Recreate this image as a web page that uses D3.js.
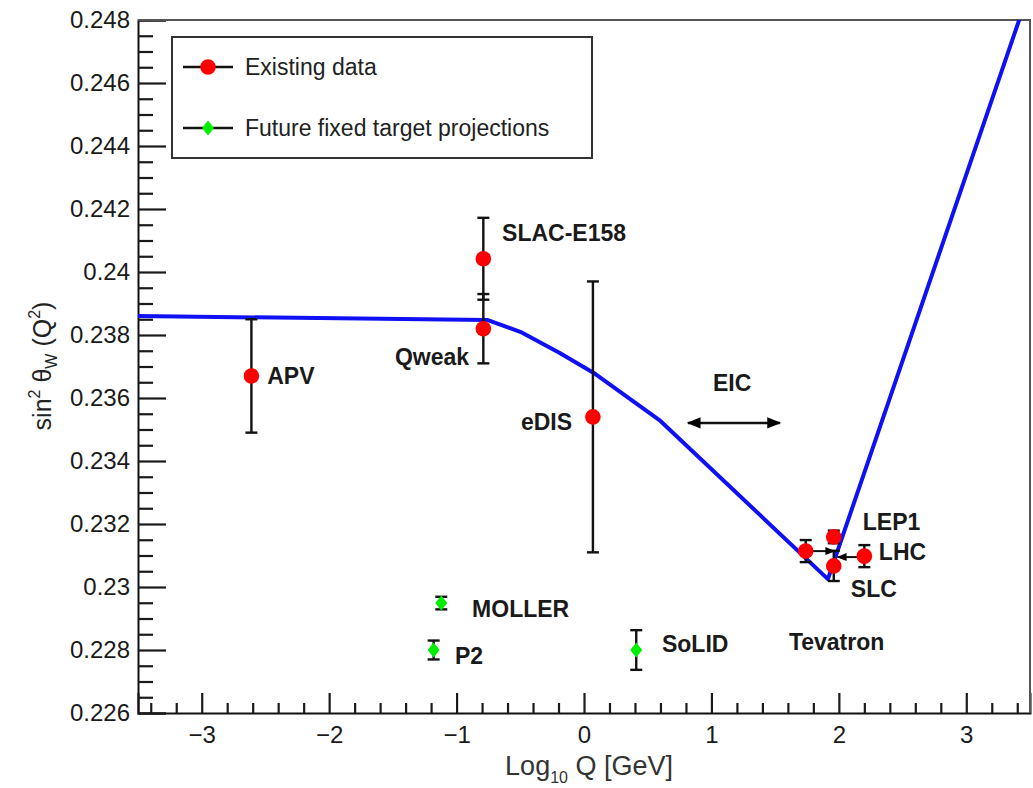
<!DOCTYPE html>
<html>
<head>
<meta charset="utf-8">
<script src="https://cdn.jsdelivr.net/npm/d3@7"></script>
<style>
  body { margin: 0; background: #fff; }
  svg { display: block; font-family: "Liberation Sans", Arial, Helvetica, sans-serif; }
</style>
</head>
<body>
<div id="chart"></div>
<script>
// ---- data ----
var existingNames = ["APV", "SLAC-E158", "Qweak", "eDIS", "Tevatron", "LEP1", "SLC", "LHC"];
var existingX = [-2.61, -0.79, -0.79, 0.07, 1.74, 1.96, 1.96, 2.2];
var existingY = [0.2367, 0.24042, 0.2382, 0.2354, 0.23114, 0.23159, 0.23067, 0.23098];
var existingErr = [0.0018, 0.0013, 0.0011, 0.0043, 0.00035, 0.0002, 0.00048, 0.00035];

var futureNames = ["MOLLER", "P2", "SoLID"];
var futureX = [-1.12, -1.18, 0.41];
var futureY = [0.22949, 0.228, 0.228];
var futureErr = [0.0002, 0.0003, 0.00063];

// running sin^2 theta_W (blue line)
var curveX = [-3.5, -0.76, -0.5, -0.19, 0.09, 0.6, 1.914, 3.42];
var curveY = [0.2386, 0.23848, 0.2381, 0.23743, 0.23676, 0.23527, 0.23025, 0.24806];

// point labels (anchor position in data units)
var labelText = ["APV", "SLAC-E158", "Qweak", "eDIS", "EIC", "LEP1", "LHC", "SLC", "Tevatron", "MOLLER", "P2", "SoLID"];
var labelX = [-2.486, -0.643, -0.902, -0.094, 1.012, 2.188, 2.314, 2.094, 1.608, -0.878, -1.012, 0.612];
var labelY = [0.2367, 0.24124, 0.2373, 0.23524, 0.23648, 0.23206, 0.23111, 0.22994, 0.22825, 0.2293, 0.22781, 0.22819];
var labelAnchor = ["start", "start", "end", "end", "start", "start", "start", "start", "start", "start", "start", "start"];

// arrows: [x1, x2, y]
var eicArrow = [0.816, 1.537, 0.23521];
var pointerArrows = [[1.74, 1.965, 0.23114], [2.2, 1.99, 0.23095]];

var xMajor = [-3, -2, -1, 0, 1, 2, 3];
var yMajor = [0.226, 0.228, 0.23, 0.232, 0.234, 0.236, 0.238, 0.24, 0.242, 0.244, 0.246, 0.248];

var legendLabels = ["Existing data", "Future fixed target projections"];

// ---- layout ----
var width = 1033, height = 788;
var mLeft = 138, mRight = 1030, mTop = 20, mBottom = 713;

var svg = d3.select("#chart").append("svg")
    .attr("width", width)
    .attr("height", height);

var x = d3.scaleLinear().domain([-3.5, 3.5]).range([mLeft, mRight]);
var y = d3.scaleLinear().domain([0.226, 0.248]).range([mBottom, mTop]);

var xMinor = d3.range(-17, 18).map(function (i) { return i / 5; })
    .filter(function (v) { return Math.abs(v - Math.round(v)) > 1e-6; });
var yMinor = d3.range(226, 248.01, 0.5).map(function (v) { return +(v / 1000).toFixed(4); })
    .filter(function (v) { return yMajor.indexOf(v) < 0; });

var defs = svg.append("defs");
defs.append("clipPath").attr("id", "plot-clip")
    .append("rect")
    .attr("x", mLeft).attr("y", mTop)
    .attr("width", mRight - mLeft).attr("height", mBottom - mTop);

function arrowMarker(id, size) {
    defs.append("marker")
        .attr("id", id)
        .attr("viewBox", "0 -5 10 10")
        .attr("refX", 9).attr("refY", 0)
        .attr("markerUnits", "userSpaceOnUse")
        .attr("markerWidth", size).attr("markerHeight", size)
        .attr("orient", "auto-start-reverse")
        .append("path")
        .attr("d", "M0,-4L10,0L0,4Z")
        .attr("fill", "#000");
}
arrowMarker("head-big", 14);
arrowMarker("head-small", 10);

// ---- axes (ROOT style, ticks inside) ----
var xAxis = svg.append("g")
    .attr("transform", "translate(0," + mBottom + ")")
    .call(d3.axisBottom(x).tickValues(xMajor).tickSize(-20).tickPadding(13).tickFormat(d3.format("d")));
svg.append("g")
    .attr("transform", "translate(0," + mBottom + ")")
    .call(d3.axisBottom(x).tickValues(xMinor).tickSize(-10).tickFormat(""))
    .select(".domain").remove();

var yAxis = svg.append("g")
    .attr("transform", "translate(" + mLeft + ",0)")
    .call(d3.axisLeft(y).tickValues(yMajor).tickSize(-28).tickPadding(8).tickFormat(d3.format("")));
svg.append("g")
    .attr("transform", "translate(" + mLeft + ",0)")
    .call(d3.axisLeft(y).tickValues(yMinor).tickSize(-15).tickFormat(""))
    .select(".domain").remove();

svg.selectAll(".tick line").attr("stroke", "#1a1a1a").attr("stroke-width", 2.2);
svg.selectAll(".domain").attr("stroke", "#111").attr("stroke-width", 2);
xAxis.selectAll("text").attr("font-size", 24).attr("fill", "#1a1a1a").attr("font-family", null);
yAxis.selectAll("text").attr("font-size", 24).attr("fill", "#1a1a1a").attr("font-family", null);

// top and right frame
svg.append("path")
    .attr("d", "M" + mLeft + "," + mTop + "H" + mRight + "V" + mBottom)
    .attr("fill", "none")
    .attr("stroke", "#555")
    .attr("stroke-width", 2);

// axis titles
var xt = svg.append("text")
    .attr("x", 673).attr("y", 775)
    .attr("text-anchor", "end")
    .attr("font-size", 27)
    .attr("fill", "#333");
xt.append("tspan").text("Log");
xt.append("tspan").attr("font-size", 16).attr("dy", 8).text("10");
xt.append("tspan").attr("dy", -8).text(" Q [GeV]");

var yt = svg.append("text")
    .attr("transform", "translate(51,366) rotate(-90)")
    .attr("text-anchor", "middle")
    .attr("font-size", 25)
    .attr("fill", "#222");
yt.append("tspan").text("sin");
yt.append("tspan").attr("font-size", 16).attr("dy", -11).text("2");
yt.append("tspan").attr("dy", 11).text(" \u03b8");
yt.append("tspan").attr("font-size", 16).attr("dy", 6).text("W");
yt.append("tspan").attr("dy", -6).text(" (Q");
yt.append("tspan").attr("font-size", 16).attr("dy", -11).text("2");
yt.append("tspan").attr("dy", 11).text(")");

// ---- running curve ----
var line = d3.line()
    .x(function (d) { return x(d[0]); })
    .y(function (d) { return y(d[1]); });

svg.append("path")
    .datum(curveX.map(function (v, i) { return [v, curveY[i]]; }))
    .attr("clip-path", "url(#plot-clip)")
    .attr("d", line)
    .attr("fill", "none")
    .attr("stroke", "#1010f5")
    .attr("stroke-width", 4)
    .attr("stroke-linejoin", "round");

// ---- error bars ----
function errorBars(xs, ys, errs) {
    var g = svg.append("g").attr("stroke", "#111").attr("stroke-width", 2.4);
    xs.forEach(function (xv, i) {
        var cx = x(xv), y1 = y(ys[i] + errs[i]), y2 = y(ys[i] - errs[i]);
        g.append("line").attr("x1", cx).attr("x2", cx).attr("y1", y1).attr("y2", y2);
        g.append("line").attr("x1", cx - 6).attr("x2", cx + 6).attr("y1", y1).attr("y2", y1);
        g.append("line").attr("x1", cx - 6).attr("x2", cx + 6).attr("y1", y2).attr("y2", y2);
    });
}
errorBars(existingX, existingY, existingErr);
errorBars(futureX, futureY, futureErr);

// ---- arrows ----
svg.append("line")
    .attr("x1", x(eicArrow[0])).attr("x2", x(eicArrow[1]))
    .attr("y1", y(eicArrow[2])).attr("y2", y(eicArrow[2]))
    .attr("stroke", "#111").attr("stroke-width", 2.5)
    .attr("marker-start", "url(#head-big)")
    .attr("marker-end", "url(#head-big)");

svg.selectAll(".ptr")
    .data(pointerArrows)
    .enter().append("line")
    .attr("class", "ptr")
    .attr("x1", function (d) { return x(d[0]); })
    .attr("x2", function (d) { return x(d[1]); })
    .attr("y1", function (d) { return y(d[2]); })
    .attr("y2", function (d) { return y(d[2]); })
    .attr("stroke", "#111").attr("stroke-width", 2)
    .attr("marker-end", "url(#head-small)");

// ---- markers ----
svg.selectAll(".existing")
    .data(existingX)
    .enter().append("circle")
    .attr("class", "existing")
    .attr("cx", function (d) { return x(d); })
    .attr("cy", function (d, i) { return y(existingY[i]); })
    .attr("r", 7.8)
    .attr("fill", "#ff0000");

function diamond(cx, cy) {
    return "M" + cx + "," + (cy - 7.5) + "L" + (cx + 6) + "," + cy +
        "L" + cx + "," + (cy + 7.5) + "L" + (cx - 6) + "," + cy + "Z";
}
svg.selectAll(".future")
    .data(futureX)
    .enter().append("path")
    .attr("class", "future")
    .attr("d", function (d, i) { return diamond(x(d), y(futureY[i])); })
    .attr("fill", "#00ee00");

// ---- labels ----
svg.selectAll(".lbl")
    .data(labelText)
    .enter().append("text")
    .attr("class", "lbl")
    .attr("x", function (d, i) { return x(labelX[i]); })
    .attr("y", function (d, i) { return y(labelY[i]); })
    .attr("dy", "0.36em")
    .attr("text-anchor", function (d, i) { return labelAnchor[i]; })
    .attr("font-size", 23)
    .attr("font-weight", "bold")
    .attr("fill", "#1a1a1a")
    .text(function (d) { return d; });

// ---- legend ----
var lg = svg.append("g").attr("transform", "translate(172,37)");
lg.append("rect")
    .attr("width", 420).attr("height", 121)
    .attr("fill", "#fff")
    .attr("stroke", "#333").attr("stroke-width", 2);

var rows = lg.selectAll(".row")
    .data(legendLabels)
    .enter().append("g")
    .attr("transform", function (d, i) { return "translate(0," + (30 + i * 61) + ")"; });
rows.append("line")
    .attr("x1", 11).attr("x2", 61)
    .attr("stroke", "#111").attr("stroke-width", 2.5);
rows.filter(function (d, i) { return i === 0; })
    .append("circle").attr("cx", 36).attr("r", 7.8).attr("fill", "#ff0000");
rows.filter(function (d, i) { return i === 1; })
    .append("path").attr("d", diamond(36, 0)).attr("fill", "#00ee00");
rows.append("text")
    .attr("x", 73).attr("dy", "0.36em")
    .attr("font-size", 23)
    .attr("fill", "#222")
    .text(function (d) { return d; });
</script>
</body>
</html>
